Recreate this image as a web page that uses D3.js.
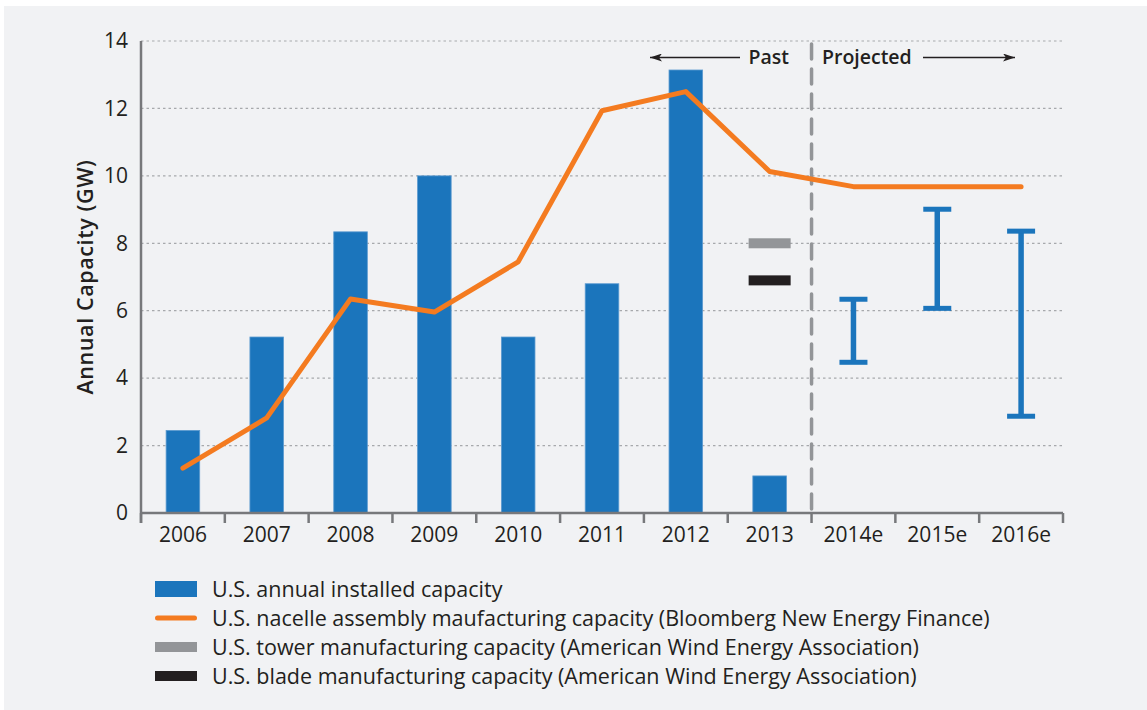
<!DOCTYPE html>
<html><head><meta charset="utf-8">
<script src="https://cdn.jsdelivr.net/npm/d3@7"></script>
<style>
html,body{margin:0;padding:0;background:#fff;}
svg{display:block;}
text{font-family:"Open Sans","Lato",sans-serif;fill:#231f20;}
</style></head><body>
<svg id="chart" width="1147" height="710"></svg>
<script>
const categories = ["2006","2007","2008","2009","2010","2011","2012","2013","2014e","2015e","2016e"];
const installed = [2.45, 5.22, 8.34, 10.0, 5.22, 6.8, 13.14, 1.1, null, null, null];
const nacelle = [1.33, 2.82, 6.35, 5.96, 7.45, 11.93, 12.5, 10.13, 9.68, 9.68, 9.68];
const tower = [{cat:"2013", value:8.0}];
const blade = [{cat:"2013", value:6.9}];
const projLow = [null, null, null, null, null, null, null, null, 4.47, 6.07, 2.87];
const projHigh = [null, null, null, null, null, null, null, null, 6.34, 9.01, 8.36];
const yTicks = [0,2,4,6,8,10,12,14];
const legendItems = [
  {type:"bar", label:"U.S. annual installed capacity"},
  {type:"line", label:"U.S. nacelle assembly maufacturing capacity (Bloomberg New Energy Finance)"},
  {type:"tower", label:"U.S. tower manufacturing capacity (American Wind Energy Association)"},
  {type:"blade", label:"U.S. blade manufacturing capacity (American Wind Energy Association)"}
];

const blue = "#1b75bc", orange = "#f47b20", gray = "#939598", black = "#231f20";
const svg = d3.select("#chart");
svg.append("rect").attr("x",4).attr("y",6).attr("width",1143).attr("height",704).attr("fill","#f1f2f4");

const L = 141, R = 1063, T = 41, B = 513;
const x = d3.scaleBand().domain(categories).range([L,R]).paddingInner(0).paddingOuter(0);
const y = d3.scaleLinear().domain([0,14]).range([B,T]);
const cx = c => x(c) + x.bandwidth()/2;
const barW = 33.6;

// grid
svg.append("g").selectAll("line").data(yTicks.filter(t=>t>0)).join("line")
  .attr("x1",L).attr("x2",R).attr("y1",d=>y(d)).attr("y2",d=>y(d))
  .attr("stroke","#a7a9ac").attr("stroke-width",1.2).attr("stroke-dasharray","2.5,3");

// y axis
const yAxis = d3.axisLeft(y).tickValues(yTicks).tickSize(0).tickPadding(13).tickFormat(d3.format("d"));
const gy = svg.append("g").attr("transform",`translate(${L},0)`).call(yAxis);
gy.select(".domain").remove();
gy.selectAll("text").attr("font-size",21).attr("fill","#231f20").style("font-family","'Open Sans',sans-serif");
svg.append("line").attr("x1",L).attr("x2",L).attr("y1",T).attr("y2",B+10)
  .attr("stroke","#77787b").attr("stroke-width",2.5);

// bars
const barData = categories.map((c,i)=>({c, v:installed[i]})).filter(d=>d.v!=null);
svg.append("g").selectAll("rect").data(barData).join("rect")
  .attr("x",d=>cx(d.c)-barW/2).attr("width",barW)
  .attr("y",d=>y(d.v)).attr("height",d=>B-y(d.v))
  .attr("fill",blue).attr("stroke","#5d9bd0").attr("stroke-width",0.8);

// x axis
const xAxis = d3.axisBottom(x).tickSize(0).tickPadding(14);
const gx = svg.append("g").attr("transform",`translate(0,${B})`).call(xAxis);
gx.select(".domain").remove();
gx.selectAll("text").attr("font-size",21).attr("fill","#231f20").style("font-family","'Open Sans',sans-serif");
svg.append("line").attr("x1",L).attr("x2",R).attr("y1",B).attr("y2",B)
  .attr("stroke","#77787b").attr("stroke-width",2.5);
const bounds = categories.map(c=>x(c)).concat([R]);
svg.append("g").selectAll("line").data(bounds).join("line")
  .attr("x1",d=>d).attr("x2",d=>d).attr("y1",B).attr("y2",B+10)
  .attr("stroke","#77787b").attr("stroke-width",2.5);

// tower / blade
svg.append("g").selectAll("rect").data(tower).join("rect")
  .attr("x",d=>cx(d.cat)-21).attr("width",42).attr("y",d=>y(d.value)-5).attr("height",10).attr("fill",gray);
svg.append("g").selectAll("rect").data(blade).join("rect")
  .attr("x",d=>cx(d.cat)-21).attr("width",42).attr("y",d=>y(d.value)-5).attr("height",10).attr("fill",black);

// projected range bars
const ranges = categories.map((c,i)=>({c, lo:projLow[i], hi:projHigh[i]})).filter(d=>d.lo!=null);
const gr = svg.append("g").attr("stroke",blue);
gr.selectAll(".stem").data(ranges).join("line").attr("class","stem")
  .attr("x1",d=>cx(d.c)).attr("x2",d=>cx(d.c)).attr("y1",d=>y(d.hi)).attr("y2",d=>y(d.lo)).attr("stroke-width",5.5);
gr.selectAll(".capH").data(ranges).join("line").attr("class","capH")
  .attr("x1",d=>cx(d.c)-14).attr("x2",d=>cx(d.c)+14).attr("y1",d=>y(d.hi)).attr("y2",d=>y(d.hi)).attr("stroke-width",5);
gr.selectAll(".capL").data(ranges).join("line").attr("class","capL")
  .attr("x1",d=>cx(d.c)-14).attr("x2",d=>cx(d.c)+14).attr("y1",d=>y(d.lo)).attr("y2",d=>y(d.lo)).attr("stroke-width",5);

// divider
const divX = x("2014e");
svg.append("line").attr("x1",divX).attr("x2",divX).attr("y1",44).attr("y2",B)
  .attr("stroke","#939598").attr("stroke-width",3.5).attr("stroke-dasharray","15,10").attr("stroke-linecap","round");

// nacelle line
const line = d3.line().x((d)=>cx(d.c)).y(d=>y(d.v));
svg.append("path").datum(categories.map((c,i)=>({c, v:nacelle[i]})))
  .attr("d",line).attr("fill","none").attr("stroke",orange).attr("stroke-width",5)
  .attr("stroke-linejoin","round").attr("stroke-linecap","round");

// Past / Projected labels
const defs = svg.append("defs");
defs.append("marker").attr("id","ah").attr("viewBox","0 0 12 8").attr("refX",12).attr("refY",4)
  .attr("markerWidth",12).attr("markerHeight",8).attr("markerUnits","userSpaceOnUse").attr("orient","auto")
  .append("path").attr("d","M0,0 L12,4 L0,8 L3,4 Z").attr("fill","#231f20");
svg.append("line").attr("x1",740).attr("x2",650).attr("y1",57.5).attr("y2",57.5)
  .attr("stroke","#231f20").attr("stroke-width",1.5).attr("marker-end","url(#ah)");
svg.append("line").attr("x1",923).attr("x2",1015).attr("y1",57.5).attr("y2",57.5)
  .attr("stroke","#231f20").attr("stroke-width",1.5).attr("marker-end","url(#ah)");
svg.append("text").attr("x",789).attr("y",63.5).attr("text-anchor","end")
  .attr("font-size",19.5).attr("font-weight",600).text("Past");
svg.append("text").attr("x",822).attr("y",63.5).attr("text-anchor","start")
  .attr("font-size",19.5).attr("font-weight",600).text("Projected");

// y title
svg.append("text").attr("transform",`translate(93,${(T+B)/2}) rotate(-90)`).attr("text-anchor","middle")
  .attr("font-size",21.5).attr("font-weight",600).attr("letter-spacing",0.6).text("Annual Capacity (GW)");

// legend
const lg = svg.append("g").attr("transform","translate(155,589)");
const rowH = 29;
legendItems.forEach((it,i)=>{
  const g = lg.append("g").attr("transform",`translate(0,${i*rowH})`);
  if(it.type==="bar") g.append("rect").attr("x",0).attr("y",-8).attr("width",42).attr("height",16).attr("fill",blue);
  else if(it.type==="line") g.append("line").attr("x1",2.5).attr("x2",39.5).attr("y1",0).attr("y2",0)
    .attr("stroke",orange).attr("stroke-width",5).attr("stroke-linecap","round");
  else g.append("rect").attr("x",0).attr("y",-5).attr("width",42).attr("height",10).attr("fill",it.type==="tower"?gray:black);
  g.append("text").attr("x",57).attr("y",7.5).attr("font-size",21.5).text(it.label);
});
</script></body></html>
